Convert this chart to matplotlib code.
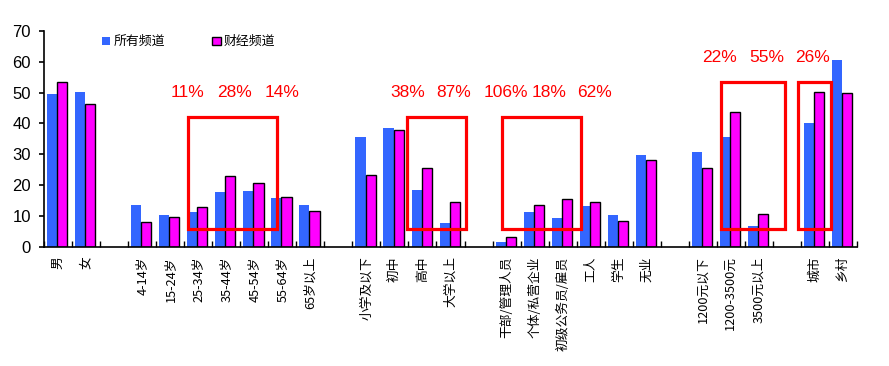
import matplotlib
matplotlib.use("Agg")
import matplotlib.pyplot as plt
from matplotlib.patches import Rectangle

# ---- data ----
groups = [
    ["男", "女"],
    ["4-14岁", "15-24岁", "25-34岁", "35-44岁", "45-54岁", "55-64岁", "65岁以上"],
    ["小学及以下", "初中", "高中", "大学以上"],
    ["干部/管理人员", "个体/私营企业", "初级公务员/雇员", "工人", "学生", "无业"],
    ["1200元以下", "1200-3500元", "3500元以上"],
    ["城市", "乡村"],
]
all_channels = [49.7, 50.2,
                13.4, 10.3, 11.3, 17.8, 18.1, 15.9, 13.6,
                35.7, 38.6, 18.5, 7.8,
                1.5, 11.3, 9.3, 13.3, 10.3, 29.9,
                30.8, 35.7, 6.7,
                40.0, 60.5]
finance = [53.6, 46.2,
           8.0, 9.6, 12.8, 23.0, 20.6, 16.1, 11.5,
           23.3, 37.9, 25.5, 14.4,
           3.0, 13.5, 15.4, 14.4, 8.3, 28.1,
           25.5, 43.8, 10.6,
           50.3, 49.9]
series_names = ["所有频道", "财经频道"]
pct_labels = ["11%", "28%", "14%", "38%", "87%", "106%", "18%", "62%", "22%", "55%", "26%"]
yticks = [0, 10, 20, 30, 40, 50, 60, 70]

# ---- layout ----
pos, labels = [], []
slot = 0
for g in groups:
    for c in g:
        pos.append(slot)
        labels.append(c)
        slot += 1
    slot += 1
nslots = slot - 1

plt.rcParams['font.family'] = ['Noto Sans CJK SC', 'DejaVu Sans']
fig = plt.figure(figsize=(8.89, 3.66), dpi=100)
ax = fig.add_axes([44/889, 1-246.7/366, (857-44)/889, 215.7/366])

w = 0.36
sh = -0.03
ax.bar([p - w/2 + sh for p in pos], all_channels, width=w, color="#3366FF",
       edgecolor="none", label=series_names[0], zorder=2)
ax.bar([p + w/2 + sh for p in pos], finance, width=w, color="#FF00FF",
       edgecolor="black", linewidth=1.0, label=series_names[1], zorder=2)

ax.set_xlim(-0.5, nslots - 0.5)
ax.set_ylim(0, 70)
ax.set_yticks(yticks)
ax.set_yticklabels([str(v) for v in yticks], family=['Liberation Sans'], fontsize=12)
ax.tick_params(axis='y', direction='out', length=3.5, width=1.2, pad=6)

ax.set_xticks(pos)
ax.set_xticklabels(labels, rotation=90, va='top', ha='center', fontsize=9.2)
ax.tick_params(axis='x', which='major', length=0, pad=7)
ax.set_xticks([i - 0.5 for i in range(nslots + 1)], minor=True)
ax.tick_params(axis='x', which='minor', direction='in', length=4, width=1)

for s in ['top', 'right']:
    ax.spines[s].set_visible(False)
for s in ['left', 'bottom']:
    ax.spines[s].set_linewidth(1.2)

# red boxes
boxes = [(4.64, 7.82, 5.7, 42.1), (12.46, 14.57, 5.7, 42.1), (15.82, 18.64, 5.7, 42.1),
         (23.64, 25.93, 5.9, 53.6), (26.4, 27.57, 5.9, 53.6)]
for x0, x1, y0, y1 in boxes:
    ax.add_patch(Rectangle((x0, y0), x1 - x0, y1 - y0, fill=False, edgecolor="#FF0000",
                           linewidth=2.3, zorder=3))

pct_x = [4.61, 6.29, 8.0, 12.46, 14.1, 15.96, 17.5, 19.14, 23.6, 25.3, 26.93]
pct_y = [50.1]*8 + [61.5]*3
for t, x, y in zip(pct_labels, pct_x, pct_y):
    ax.text(x, y, t, color="#FF0000", fontsize=12.5, ha='center', va='center',
            family=['Liberation Sans'], zorder=4)

ax.legend(loc='center left', bbox_to_anchor=(0.0713, 0.950), ncol=2, frameon=False,
          fontsize=9.3, handlelength=0.62, handleheight=0.62, handletextpad=0.25,
          columnspacing=3.7, borderpad=0, borderaxespad=0)

fig.savefig("out.png", dpi=100)
